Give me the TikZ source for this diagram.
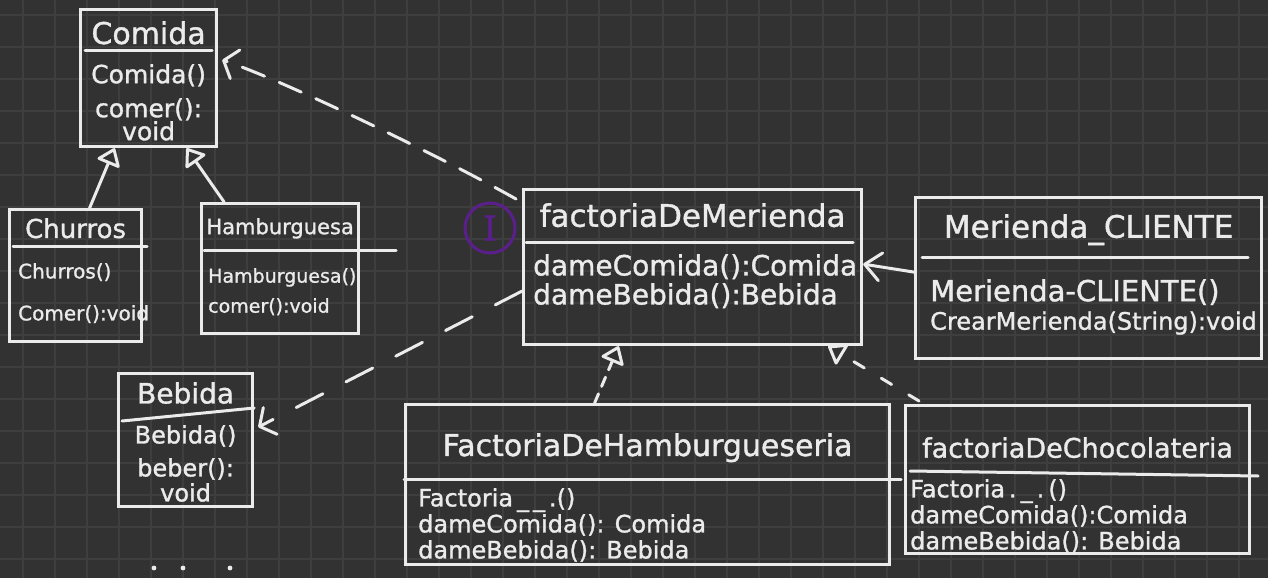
\documentclass[tikz,border=0pt]{standalone}
\usepackage{fontspec}
\setmainfont{DejaVu Sans}[FakeBold=1.2]
\newfontfamily\serifI{DejaVu Serif}[FakeBold=1.5]
\usepackage{tikz}
\usetikzlibrary{arrows.meta, positioning}

\definecolor{board}{HTML}{323232}
\definecolor{gridc}{HTML}{3E3E3E}
\definecolor{chalk}{HTML}{EBEBEB}
\definecolor{ink}{HTML}{5B1F8C}

\begin{document}
\begin{tikzpicture}[
    x=1pt, y=-1pt,
    cls/.style={rectangle, draw=chalk, line width=3.2pt, anchor=north west, inner sep=0pt},
    clsname/.style={text=chalk, inner sep=0pt, font=\fontsize{#1}{#1}\selectfont},
    member/.style 2 args={text=chalk, inner sep=0pt, align=left, font=\fontsize{#1}{#2}\selectfont},
    divider/.style={draw=chalk, line width=3pt, line cap=round},
    gridline/.style={draw=gridc, line width=1.2pt},
    inherit/.style={draw=chalk, line width=3pt, line cap=round, -{Triangle[open, round, length=18pt, width=26pt]}},
    realize/.style={inherit, dash pattern=on 10pt off 8pt},
    depend/.style={draw=chalk, line width=3pt, line cap=round, dash pattern=on 24pt off 16pt, -{Straight Barb[round, length=12pt, width=30pt]}},
    assoc/.style={draw=chalk, line width=3pt, line cap=round, -{Straight Barb[round, length=16pt, width=28pt]}},
    iface/.style={circle, draw=ink, line width=3pt, minimum size=50pt, inner sep=0pt, text=ink, font=\fontsize{34}{34}\serifI},
]
% board
\fill[board] (0,0) rectangle (1268,578);
\useasboundingbox (0,0) rectangle (1268,578);
\foreach \gx in {23,55,...,1239} \draw[gridline] (\gx,0) -- (\gx,578);
\foreach \gy in {15,47,...,559} \draw[gridline] (0,\gy) -- (1268,\gy);

% classes
\node[cls, minimum width=136pt, minimum height=137pt] (comida) at (79,8) {};
\node[cls, minimum width=132pt, minimum height=132pt] (churros) at (8,208) {};
\node[cls, minimum width=157pt, minimum height=130pt] (hamburguesa) at (200,202) {};
\node[cls, minimum width=134pt, minimum height=133pt] (bebida) at (117,372) {};
\node[cls, minimum width=338pt, minimum height=155pt] (factoria) at (522,188) {};
\node[cls, minimum width=346pt, minimum height=161pt] (cliente) at (914,196) {};
\node[cls, minimum width=484pt, minimum height=160pt] (facHamb) at (404,403) {};
\node[cls, minimum width=344pt, minimum height=148pt] (facChoc) at (904,404) {};

% Comida
\node[clsname=30, below=13pt of comida.north] (comidaN) {Comida};
\draw[divider] ([xshift=6pt, yshift=-43pt]comida.north west) -- ([xshift=-6pt, yshift=-43pt]comida.north east);
\node[member={25}{34}, align=center, below=56pt of comida.north] (comidaM) {Comida()\\comer():\\[-11pt]void};

% Churros
\node[clsname=26, below=10pt of churros.north] (churrosN) {Churros};
\draw[divider] ([xshift=5pt, yshift=-38pt]churros.north west) -- ([xshift=4pt, yshift=-38pt]churros.north east);
\node[member={20}{42}, below right=55pt and 10pt of churros.north west] (churrosM) {Churros()\\Comer():void};

% Hamburguesa
\node[clsname=21, below=16pt of hamburguesa.north] (hamburguesaN) {Hamburguesa};
\draw[divider] ([xshift=4pt, yshift=-48pt]hamburguesa.north west) -- ([xshift=36pt, yshift=-48pt]hamburguesa.north east);
\node[member={19}{30}, below right=66pt and 8pt of hamburguesa.north west] (hamburguesaM) {Hamburguesa()\\comer():void};

% Bebida
\node[clsname=28, below=10pt of bebida.north] (bebidaN) {Bebida};
\draw[divider] ([xshift=5pt, yshift=-49pt]bebida.north west) -- ([yshift=-36pt]bebida.north east);
\node[member={24}{33}, align=center, below=53pt of bebida.north] (bebidaM) {Bebida()\\beber():\\[-8pt]void};

% factoriaDeMerienda
\node[clsname=31, below=15pt of factoria.north] (factoriaN) {factoriaDeMerienda};
\draw[divider] ([xshift=4pt, yshift=-54pt]factoria.north west) -- ([xshift=-10pt, yshift=-54pt]factoria.north east);
\node[member={28}{29}, below right=66pt and 11pt of factoria.north west] (factoriaM) {dameComida():Comida\\dameBebida():Bebida};
\node[iface] (iface) at (490,228) {I};

% Merienda_CLIENTE
\node[clsname=31, below=18pt of cliente.north] (clienteN) {Merienda\_CLIENTE};
\draw[divider] ([xshift=8pt, yshift=-61pt]cliente.north west) -- ([xshift=-15pt, yshift=-61pt]cliente.north east);
\node[member={29}{29}, below right=83pt and 16pt of cliente.north west] (clienteM) {Merienda-CLIENTE()};
\node[member={24}{24}, below=6pt of clienteM.south west, anchor=north west] (clienteM2) {CrearMerienda(String):void};

% FactoriaDeHamburgueseria
\node[clsname=30, below=30pt of facHamb.north] (facHambN) {FactoriaDeHamburgueseria};
\draw[divider] ([yshift=-76pt]facHamb.north west) -- ([xshift=10pt, yshift=-76pt]facHamb.north east);
\node[member={24}{26}, below right=85pt and 14pt of facHamb.north west] (facHambM) {Factoria\,\_\,\_\,.()\\dameComida(): Comida\\dameBebida(): Bebida};

% factoriaDeChocolateria
\node[clsname=27, below=33pt of facChoc.north] (facChocN) {factoriaDeChocolateria};
\draw[divider] ([xshift=6pt, yshift=-67pt]facChoc.north west) -- ([xshift=7pt, yshift=-72pt]facChoc.north east);
\node[member={24}{26}, below right=75pt and 6pt of facChoc.north west] (facChocM) {Factoria\,.\,\_\,.\,()\\dameComida():Comida\\dameBebida(): Bebida};

% relations
\draw[inherit] ([xshift=14pt]churros.north) -- ([xshift=-34pt]comida.south);
\draw[inherit] ([xshift=-56pt]hamburguesa.north) -- ([xshift=38pt]comida.south);
\draw[depend] ([xshift=-6pt, yshift=-11pt]factoria.north west) .. controls +(-80,-45) and +(60,20) .. ([xshift=4pt, yshift=-52pt]comida.north east);
\draw[depend, dash pattern=on 30pt off 26pt] ([yshift=-24pt]factoria.west) -- ([xshift=4pt, yshift=13pt]bebida.east);
\draw[assoc] ([yshift=6pt]cliente.west) -- ([yshift=3pt]factoria.east);
\draw[realize] ([xshift=-53pt]facHamb.north) -- ([xshift=-74pt]factoria.south);
\draw[realize, dash pattern=on 12pt off 20pt] ([xshift=15pt, yshift=3pt]facChoc.north west) -- ([xshift=-35pt]factoria.south east);

% stray dots
\foreach \dx in {154,183,230} \fill[chalk] (\dx,568) circle (2.4pt);
\end{tikzpicture}
\end{document}
